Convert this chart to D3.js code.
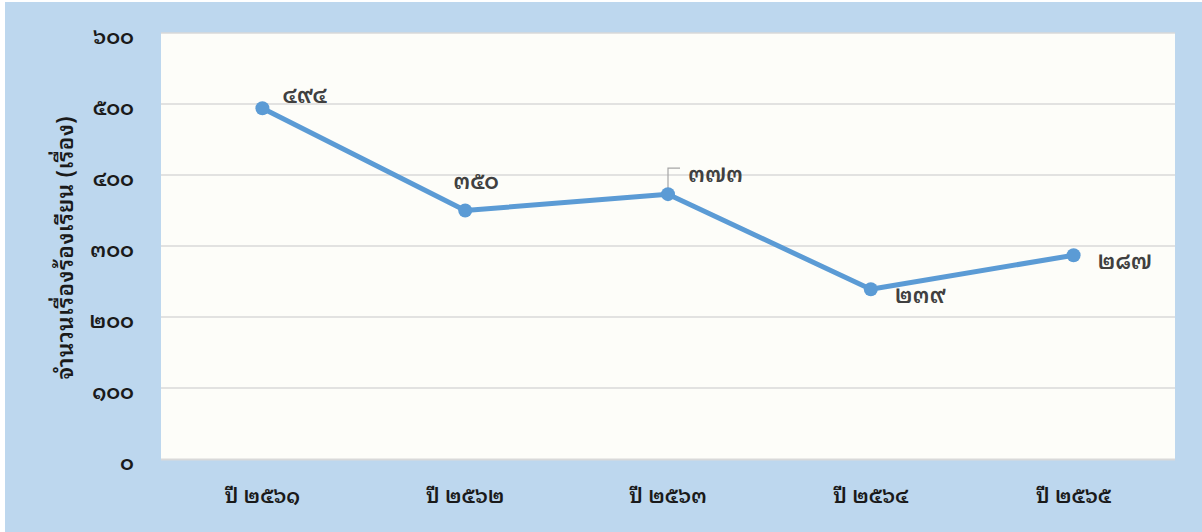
<!DOCTYPE html>
<html><head><meta charset="utf-8">
<script src="https://cdn.jsdelivr.net/npm/d3@7/dist/d3.min.js"></script>
<style>
html,body{margin:0;padding:0;background:#fff;}
svg{display:block;}
text{font-family:"Noto Sans Thai Looped","Noto Sans Thai",sans-serif;}
</style></head>
<body>
<svg id="c" width="1202" height="532"></svg>
<script>
const categories = ["ปี ๒๕๖๑","ปี ๒๕๖๒","ปี ๒๕๖๓","ปี ๒๕๖๔","ปี ๒๕๖๕"];
const values = [494, 350, 373, 239, 287];
const valueLabels = ["๔๙๔","๓๕๐","๓๗๓","๒๓๙","๒๘๗"];
const yTicks = [0,100,200,300,400,500,600];
const yTickLabels = ["๐","๑๐๐","๒๐๐","๓๐๐","๔๐๐","๕๐๐","๖๐๐"];
const yTitle = "จำนวนเรื่องร้องเรียน (เรื่อง)";

const FONT = '"Noto Sans Thai Looped","Noto Sans Thai",sans-serif';
const svg = d3.select("#c");
svg.append("rect").attr("x",5).attr("y",2).attr("width",1197).attr("height",530).attr("fill","#BDD7EE");

const m = {left:161, right:1175, top:33, bottom:459};
svg.append("rect").attr("x",m.left).attr("y",m.top).attr("width",m.right-m.left).attr("height",m.bottom-m.top).attr("fill","#FDFDF9");

const x = d3.scaleBand().domain(categories).range([m.left,m.right]);
const y = d3.scaleLinear().domain([0,600]).range([m.bottom,m.top]);

// grid
svg.append("g").selectAll("line").data(yTicks.filter(d=>d>0)).join("line")
  .attr("x1",m.left).attr("x2",m.right)
  .attr("y1",d=>y(d)).attr("y2",d=>y(d))
  .attr("stroke","#D9D9D9").attr("stroke-width",1.5);
// x axis baseline
svg.append("line").attr("x1",m.left).attr("x2",m.right).attr("y1",y(0)+0.5).attr("y2",y(0)+0.5)
  .attr("stroke","#D9D9D9").attr("stroke-width",2);

// y tick labels
const yAxis = d3.axisLeft(y).tickValues(yTicks).tickSize(0).tickPadding(0)
  .tickFormat(d=>yTickLabels[yTicks.indexOf(d)]);
const gy = svg.append("g").attr("transform",`translate(134,4)`).call(yAxis);
gy.select(".domain").remove();
gy.selectAll("text").attr("font-size",21).attr("font-weight",600).attr("fill","#1a1a1a")
  .attr("font-family",FONT).attr("dy","0.3em");

// x labels
const xAxis = d3.axisBottom(x).tickSize(0).tickPadding(0);
const gx = svg.append("g").attr("transform",`translate(0,497)`).call(xAxis);
gx.select(".domain").remove();
gx.selectAll("text").attr("font-size",20.5).attr("font-weight",600).attr("fill","#1a1a1a")
  .attr("font-family",FONT).attr("dy","0.3em");

// y title
svg.append("text").attr("transform",`translate(66,248) rotate(-90)`)
  .attr("text-anchor","middle").attr("dy","0.32em")
  .attr("font-size",22.5).attr("font-weight",600).attr("fill","#1a1a1a")
  .attr("textLength",263).attr("lengthAdjust","spacing").text(yTitle);

const cx = (d,i)=>x(categories[i])+x.bandwidth()/2;

// line
svg.append("path").datum(values)
  .attr("d", d3.line().x((d,i)=>cx(d,i)).y(d=>y(d)))
  .attr("fill","none").attr("stroke","#5B9BD5").attr("stroke-width",5).attr("stroke-linejoin","round");

// leader line for 3rd label
svg.append("path")
  .attr("d",`M${cx(0,2)},${y(values[2])-4} V${y(values[2])-26} H${cx(0,2)+12}`)
  .attr("fill","none").attr("stroke","#A6A6A6").attr("stroke-width",1.2);

svg.append("g").selectAll("circle").data(values).join("circle")
  .attr("cx",(d,i)=>cx(d,i)).attr("cy",d=>y(d)).attr("r",7).attr("fill","#5B9BD5");

// data labels offsets relative to point
const off = [[20,-12],[-12,-28],[20,-19],[24,7],[24,7]];
svg.append("g").selectAll("text").data(values).join("text")
  .attr("x",(d,i)=>cx(d,i)+off[i][0]).attr("y",(d,i)=>y(d)+off[i][1])
  .attr("dy","0.3em")
  .attr("font-size",22).attr("font-weight",600).attr("fill","#404040")
  .text((d,i)=>valueLabels[i]);
</script>
</body></html>
